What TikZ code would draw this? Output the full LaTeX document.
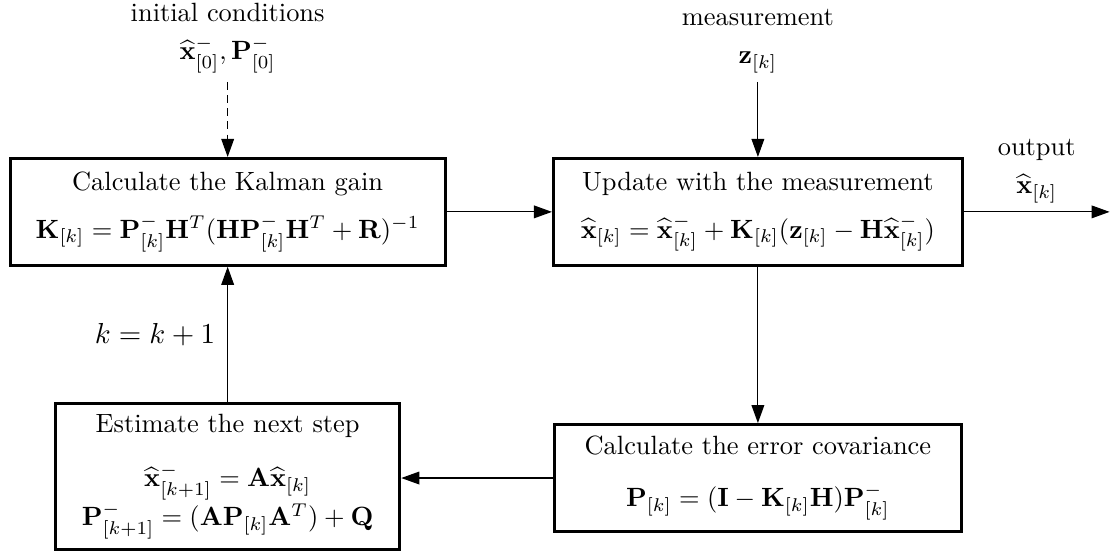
\documentclass[tikz,border=0pt]{standalone}
\usepackage{amsmath}
\usetikzlibrary{arrows.meta,positioning}

\begin{document}
\begin{tikzpicture}[
  >={Triangle[length=6.8pt,width=4.8pt]},
  stagebox/.style={
    draw, line width=1.2pt,
    minimum height=14.2mm,
    align=center, inner sep=4pt
  },
  arr/.style={->, line width=0.45pt},
  inlbl/.style={align=center, inner sep=3pt},
  steplbl/.style={font=\fontsize{10.5}{12.5}\selectfont, left, inner sep=4.5pt}
]

% page frame (gain box sits at the origin)
\useasboundingbox (-30.3mm,28.2mm) rectangle (117.7mm,-45.1mm);

% =============================================================
% top row: gain + update
% =============================================================
\node[stagebox, minimum width=57.9mm] (gain)
  {Calculate the Kalman gain\\[6pt]
   $\mathbf{K}_{[k]} = \mathbf{P}^-_{[k]}\mathbf{H}^T(\mathbf{H}\mathbf{P}^-_{[k]}\mathbf{H}^T + \mathbf{R})^{-1}$};

\node[stagebox, minimum width=54.4mm, right=14mm of gain] (update)
  {Update with the measurement\\[6pt]
   $\widehat{\mathbf{x}}_{[k]} = \widehat{\mathbf{x}}^-_{[k]} + \mathbf{K}_{[k]}(\mathbf{z}_{[k]} - \mathbf{H}\widehat{\mathbf{x}}^-_{[k]})$};

% =============================================================
% bottom row: estimate + covariance
% =============================================================
\node[stagebox, minimum width=45.8mm, minimum height=19.3mm, below=18mm of gain] (estimate)
  {Estimate the next step\\[8.5pt]
   $\widehat{\mathbf{x}}^-_{[k+1]} = \mathbf{A}\widehat{\mathbf{x}}_{[k]}$\\
   $\mathbf{P}^-_{[k+1]} = (\mathbf{A}\mathbf{P}_{[k]}\mathbf{A}^T) + \mathbf{Q}$};

\node[stagebox, minimum width=54.2mm, below=20.8mm of update] (covar)
  {Calculate the error covariance\\[8pt]
   $\mathbf{P}_{[k]} = (\mathbf{I} - \mathbf{K}_{[k]}\mathbf{H})\mathbf{P}^-_{[k]}$};

% inputs / output
\node[inlbl, above=10mm of gain] (init)
  {initial conditions\\[2.5pt]
   $\widehat{\mathbf{x}}^-_{[0]}, \mathbf{P}^-_{[0]}$};
\node[inlbl, above=10mm of update] (meas)
  {measurement\\[2.5pt]
   $\mathbf{z}_{[k]}$};
\coordinate[right=19.4mm of update] (out);

% =============================================================
% arrows
% =============================================================
\draw[arr, dash pattern=on 3pt off 2pt] (init) -- (gain);
\draw[arr] (meas) -- (update);
\draw[arr] (gain) -- (update);
\draw[arr] (update) --
   node[inlbl, above] {output\\[2.5pt]$\widehat{\mathbf{x}}_{[k]}$} (out);
\draw[arr] (update) -- (covar);
\draw[arr] (covar.west) -- (covar.west -| estimate.east);
\draw[arr] (estimate) -- node[steplbl] {$k = k + 1$} (gain);

\end{tikzpicture}
\end{document}
